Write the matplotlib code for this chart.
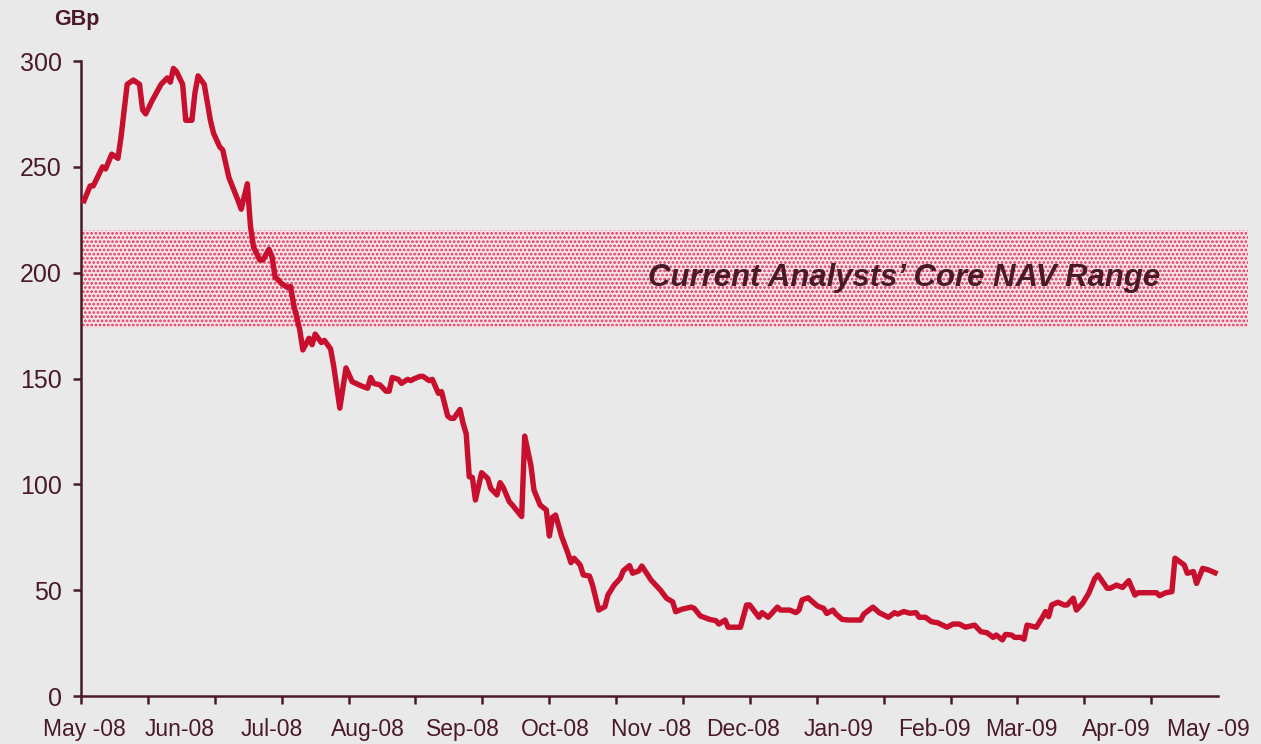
import numpy as np
import pandas as pd
import matplotlib
matplotlib.use("Agg")
import matplotlib.pyplot as plt

# share price in GBp; days counted from 1 May 2008
days = [0, 2, 3, 6, 7, 9, 11, 12, 14, 16, 18, 19, 20, 22, 25, 27, 28, 29, 30, 32,
        33, 35, 36, 37, 39, 41, 42, 44, 45, 47, 50, 51, 53, 54, 55, 57, 58, 60, 61, 62,
        64, 66, 67, 68, 70, 71, 73, 74, 75, 77, 78, 80, 81, 83, 85, 87, 90, 92, 93, 94,
        96, 98, 99, 100, 102, 103, 105, 106, 107, 109, 110, 112, 113, 115, 116, 118, 119, 120, 122, 123,
        124, 125, 126, 127, 129, 131, 132, 134, 135, 136, 138, 139, 141, 142, 143, 145, 146, 148, 150, 151,
        152, 153, 155, 157, 158, 159, 161, 162, 164, 165, 167, 169, 170, 172, 174, 175, 177, 178, 180, 181,
        184, 185, 187, 189, 191, 192, 194, 197, 198, 200, 203, 205, 206, 208, 209, 213, 215, 216, 219, 220,
        222, 225, 226, 229, 231, 232, 233, 235, 236, 238, 240, 241, 243, 244, 246, 248, 252, 253, 256, 258,
        261, 263, 264, 266, 268, 270, 271, 273, 275, 277, 280, 282, 284, 286, 289, 291, 293, 295, 296, 298,
        299, 301, 302, 304, 305, 306, 309, 311, 312, 313, 314, 316, 318, 319, 321, 322, 324, 326, 328, 329,
        332, 333, 335, 337, 339, 341, 342, 348, 349, 351, 353, 354, 356, 357, 358, 360, 361, 363, 365, 367]
gbp = [234, 241, 241, 250, 249, 256, 254, 264, 289, 291, 289, 277, 275, 281, 289, 292, 290, 296.5, 295, 289,
       272, 272, 285, 293, 289, 272, 266, 259.5, 258, 245, 234, 230, 242, 222, 212, 206, 206, 211, 207.5, 198,
       195, 193, 193.5, 185, 173, 163.5, 169, 166, 171, 167, 168, 164, 156, 136, 155, 148.5, 146.5, 145.4, 150.5, 147.7,
       147, 144, 144, 150.5, 149.6, 147.7, 149.6, 149, 149.8, 151, 151, 149, 149.6, 143, 143.8, 132.3, 131.2, 131.2, 135.4, 128.8,
       124, 103.6, 103.3, 92.6, 105.5, 102.8, 98, 95, 100.8, 98.6, 91.8, 90.2, 86.6, 84.8, 122.8, 109, 97.3, 90.2, 87.9, 75.6,
       84.4, 85.5, 75.3, 67.5, 63, 65.1, 61.9, 57.2, 56.7, 52.4, 40.6, 42.2, 47.7, 52.4, 55.6, 59.2, 61.6, 58, 59.1, 61.4,
       54.8, 53.2, 50.1, 46.2, 44.5, 39.8, 41, 42, 41.4, 37.8, 36.2, 35.6, 34, 35.9, 32.5, 32.5, 43, 43, 37.2, 39.4,
       37.2, 42, 40.6, 40.6, 39.4, 40.6, 45.4, 46.4, 45, 42.5, 41.4, 39, 40.6, 38.7, 36.2, 35.9, 35.9, 38.7, 42, 39.4,
       37.2, 39.4, 38.7, 39.9, 39.1, 39.4, 37.2, 37.2, 35.1, 34.6, 32.5, 34, 34, 32.5, 33.5, 30.4, 29.9, 27.7, 28.8, 26.5,
       29.1, 28.8, 27.7, 27.7, 26.8, 33.5, 32.5, 37.2, 39.9, 37.5, 43, 44.3, 43, 43, 46.2, 40.6, 43.7, 48.5, 55.6, 57.2,
       50.9, 50.9, 52.4, 51.3, 54.5, 47.7, 48.8, 48.8, 47.4, 48.8, 49.3, 65.1, 63, 61.9, 58, 58.8, 53.2, 60.3, 59.5, 58.2]

nav_low, nav_high = 174, 220
band_label = "Current Analysts\u2019 Core NAV Range"

start = pd.Timestamp("2008-05-01")
months = pd.date_range("2008-05-01", "2009-05-01", freq="MS")
month_pos = (months - start).days
month_labels = [m.strftime("%b-%y") for m in months]
month_labels = [s.replace("May-", "May -").replace("Nov-", "Nov -") for s in month_labels]

bg = "#e9e9e9"
dark = "#4a1a28"
red = "#c8102e"

plt.rcParams["font.family"] = ["Liberation Sans", "DejaVu Sans"]
plt.rcParams["hatch.linewidth"] = 1.3
plt.rcParams["hatch.color"] = "#e0365a"

fig = plt.figure(figsize=(12.61, 7.44), dpi=100, facecolor=bg)
ax = fig.add_axes([0.0642, 0.0645, 0.9255, 0.8535], facecolor=bg)

ax.axhspan(nav_low, nav_high, facecolor="#f7e4e9", hatch="....", edgecolor="#e0365a", linewidth=0, zorder=1)
ax.text(266, 197.5, band_label, ha="center", va="center", fontsize=22.4,
        fontweight="bold", fontstyle="italic", color=dark, zorder=3)

ax.plot(days, gbp, color=red, lw=3.9, solid_joinstyle="round", zorder=4)

ax.set_xlim(-1, 377.7)
ax.set_ylim(0, 300)
ax.set_yticks(np.arange(0, 301, 50))

for s in ["top", "right"]:
    ax.spines[s].set_visible(False)
for s in ["left", "bottom"]:
    ax.spines[s].set_color(dark)
    ax.spines[s].set_linewidth(1.8)
ax.spines["bottom"].set_bounds(-1, 368)

ax.set_xticks(np.linspace(-1, 368, 18)[:-1])
ax.set_xticklabels([])
ax.set_xticks(month_pos, minor=True)
ax.set_xticklabels(month_labels, minor=True)
ax.tick_params(axis="x", which="major", length=6, width=1.8, color=dark)
ax.tick_params(axis="x", which="minor", length=0, pad=16, labelsize=16.5, labelcolor=dark)
ax.tick_params(axis="y", length=6, width=1.8, color=dark, pad=8, labelsize=18, labelcolor=dark)

fig.text(0.061, 0.974, "GBp", ha="center", va="center", fontsize=15.5, fontweight="bold", color=dark)

fig.savefig("out.png", dpi=100, facecolor=bg)
